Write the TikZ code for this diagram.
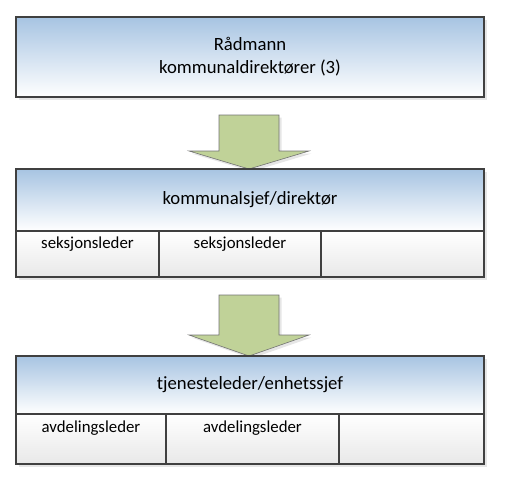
\documentclass[tikz,border=0pt]{standalone}
\usepackage{fontspec}
\setmainfont{Carlito}
\usetikzlibrary{positioning,calc,shadows,backgrounds}

\definecolor{hodeblaa}{RGB}{167,196,226}
\definecolor{pilgronn}{RGB}{192,210,152}
\definecolor{kant}{RGB}{64,64,64}

\begin{document}
\begin{tikzpicture}[x=1pt, y=-1pt, inner sep=0pt, outer sep=0pt,
  skygge/.style={drop shadow={shadow xshift=2.5pt, shadow yshift=-2.5pt, opacity=0.2}},
  hode/.style={draw=kant, line width=1.2pt, top color=hodeblaa, bottom color=white, minimum width=468pt, align=center, font=\fontsize{18.7}{23}\selectfont, skygge},
  celle/.style={draw=kant, line width=1.2pt, top color=white, bottom color=black!9, skygge},
  celletekst/.style={font=\fontsize{16.8}{20}\selectfont},
  pil/.style={draw=black!55, fill=pilgronn, line width=0.6pt, skygge}]
\useasboundingbox (0,0) rectangle (506,483);

% niva 1
\node [hode, minimum height=80pt, anchor=north west] (raadmann) at (16,17) {Rådmann\\kommunaldirektører (3)};

% niva 2
\node [hode, minimum height=62pt, anchor=north west] (kommunalsjef) at (16,169) {kommunalsjef/direktør};
\node [celle, minimum width=143pt, minimum height=46pt, below right=0pt and 0pt of kommunalsjef.south west] (seksjon1) {};
\node [celle, minimum width=162pt, minimum height=46pt, right=0pt of seksjon1] (seksjon2) {};
\node [celle, minimum width=163pt, minimum height=46pt, right=0pt of seksjon2] (seksjon3) {};
\node [celletekst, below=6pt of seksjon1.north] (seksjon1tekst) {seksjonsleder};
\node [celletekst, below=6pt of seksjon2.north] (seksjon2tekst) {seksjonsleder};

% niva 3
\node [hode, minimum height=58pt, anchor=north west] (tjenesteleder) at (16,356) {tjenesteleder/enhetssjef};
\node [celle, minimum width=150pt, minimum height=50pt, below right=0pt and 0pt of tjenesteleder.south west] (avdeling1) {};
\node [celle, minimum width=173pt, minimum height=50pt, right=0pt of avdeling1] (avdeling2) {};
\node [celle, minimum width=145pt, minimum height=50pt, right=0pt of avdeling2] (avdeling3) {};
\node [celletekst, below=7pt of avdeling1.north] (avdeling1tekst) {avdelingsleder};
\node [celletekst, below=7pt of avdeling2.north] (avdeling2tekst) {avdelingsleder};

% piler ned til hvert niva
\begin{scope}[on background layer]
\foreach \til/\lengde/\spiss in {kommunalsjef/54/18, tjenesteleder/61/21}
  \draw [pil] ($(\til.north)+(-31,-\lengde)$) -- ($(\til.north)+(29,-\lengde)$) -- ($(\til.north)+(29,-\spiss)$) -- ($(\til.north)+(59,-\spiss)$) -- ($(\til.north)+(-1,0)$) -- ($(\til.north)+(-61,-\spiss)$) -- ($(\til.north)+(-31,-\spiss)$) -- cycle;
\end{scope}
\end{tikzpicture}
\end{document}
